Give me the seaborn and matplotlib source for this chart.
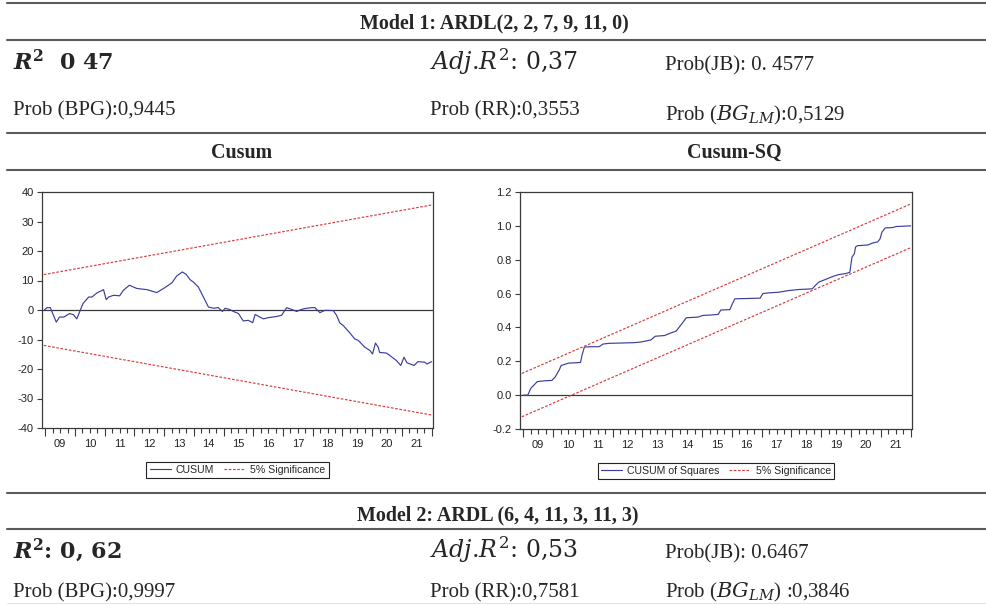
import matplotlib
matplotlib.use("Agg")
import matplotlib.pyplot as plt
from matplotlib.lines import Line2D
import seaborn as sns

# ---------------- data ----------------
model1_title = "Model 1: ARDL(2, 2, 7, 9, 11, 0)"
model2_title = "Model 2: ARDL (6, 4, 11, 3, 11, 3)"
panel_titles = ["Cusum", "Cusum-SQ"]

model1_row1 = [r"$\mathbfit{R}^{\mathbf{2}}$  0 47", r"$Adj$.$R^{2}$: 0,37", "Prob(JB): 0. 4577"]
model1_row2 = ["Prob (BPG):0,9445", "Prob (RR):0,3553", r"Prob ($BG_{LM}$):0,5129"]
model2_row1 = [r"$\mathbfit{R}^{\mathbf{2}}$: 0, 62", r"$Adj$.$R^{2}$: 0,53", "Prob(JB): 0.6467"]
model2_row2 = ["Prob (BPG):0,9997", "Prob (RR):0,7581", r"Prob ($BG_{LM}$) :0,3846"]

cusum_year = [2008.97, 2009.06, 2009.17, 2009.37, 2009.48, 2009.62, 2009.82, 2009.95,
              2010.06, 2010.27, 2010.46, 2010.57, 2010.74, 2010.96, 2011.05, 2011.13,
              2011.30, 2011.50, 2011.63, 2011.83, 2012.08, 2012.42, 2012.75, 2012.98,
              2013.26, 2013.42, 2013.61, 2013.74, 2013.87, 2013.98, 2014.15, 2014.32,
              2014.49, 2014.66, 2014.82, 2014.96, 2015.05, 2015.22, 2015.33, 2015.50,
              2015.66, 2015.83, 2015.98, 2016.06, 2016.22, 2016.34, 2016.50, 2016.78,
              2016.95, 2017.12, 2017.29, 2017.46, 2017.62, 2017.74, 2017.96, 2018.07,
              2018.24, 2018.41, 2018.69, 2018.80, 2018.91, 2019.02, 2019.25, 2019.41,
              2019.53, 2019.75, 2019.92, 2020.01, 2020.11, 2020.20, 2020.25, 2020.48,
              2020.59, 2020.81, 2020.96, 2021.07, 2021.17, 2021.41, 2021.54, 2021.77,
              2021.84, 2022.00]
cusum_value = [0.0, 0.8, 0.8, -4.1, -2.4, -2.4, -1.2, -1.6,
               -3.0, 2.2, 4.4, 4.4, 5.8, 6.9, 3.5, 4.4,
               5.0, 4.8, 6.7, 8.4, 7.3, 6.9, 5.9, 7.3,
               9.2, 11.5, 12.9, 12.1, 10.3, 9.5, 7.8, 4.4,
               1.0, 0.6, 0.8, -0.5, 0.6, 0.1, -0.5, -1.2,
               -3.7, -3.5, -4.3, -1.5, -2.4, -3.0, -2.6, -2.2,
               -1.8, 0.8, 0.2, -0.5, 0.2, 0.5, 0.8, 0.8,
               -0.9, -0.1, -0.2, -1.8, -4.4, -5.2, -7.8, -9.8,
               -10.3, -12.6, -13.7, -14.9, -11.2, -12.6, -14.4, -14.6,
               -15.4, -17.1, -18.8, -16.0, -17.9, -18.8, -17.5, -17.7,
               -18.3, -17.5]
cusum_band_year = [2008.95, 2022.0]
cusum_upper = [12.0, 35.6]
cusum_lower = [-12.0, -35.6]

sq_year = [2009.00, 2009.15, 2009.25, 2009.34, 2009.47, 2009.73, 2009.96, 2010.07,
           2010.21, 2010.27, 2010.41, 2010.52, 2010.92, 2010.97, 2011.05, 2011.26,
           2011.54, 2011.68, 2011.88, 2012.72, 2012.95, 2013.28, 2013.43, 2013.74,
           2013.96, 2014.13, 2014.30, 2014.47, 2014.86, 2015.03, 2015.26, 2015.54,
           2015.63, 2015.93, 2016.01, 2016.10, 2016.55, 2016.95, 2017.04, 2017.23,
           2017.57, 2017.91, 2018.25, 2018.70, 2018.79, 2018.92, 2019.15, 2019.37,
           2019.58, 2019.82, 2019.96, 2020.03, 2020.11, 2020.15, 2020.22, 2020.56,
           2020.73, 2020.89, 2020.97, 2021.04, 2021.15, 2021.40, 2021.51, 2022.00]
sq_value = [0.000, 0.000, 0.040, 0.056, 0.080, 0.085, 0.087, 0.107,
            0.150, 0.175, 0.183, 0.189, 0.193, 0.235, 0.284, 0.286,
            0.286, 0.302, 0.306, 0.310, 0.314, 0.326, 0.348, 0.352,
            0.368, 0.378, 0.417, 0.457, 0.461, 0.471, 0.473, 0.477,
            0.503, 0.505, 0.537, 0.569, 0.571, 0.573, 0.600, 0.604,
            0.608, 0.618, 0.624, 0.628, 0.646, 0.668, 0.684, 0.700,
            0.712, 0.718, 0.726, 0.815, 0.835, 0.875, 0.883, 0.887,
            0.899, 0.905, 0.922, 0.964, 0.988, 0.990, 0.996, 1.000]
sq_band_year = [2008.95, 2022.0]
sq_upper = [0.128, 1.129]
sq_lower = [-0.128, 0.871]

year_ticks = list(range(2009, 2023))
year_labels = ["09", "10", "11", "12", "13", "14", "15", "16", "17", "18", "19", "20", "21"]
cusum_yticks = [-40, -30, -20, -10, 0, 10, 20, 30, 40]
sq_yticks = [-0.2, 0.0, 0.2, 0.4, 0.6, 0.8, 1.0, 1.2]

# ---------------- style ----------------
sns.set_style("white")
plt.rcParams["font.family"] = ["Liberation Sans", "DejaVu Sans"]
plt.rcParams["mathtext.fontset"] = "dejavuserif"

W, H = 987, 605
fig = plt.figure(figsize=(W / 100, H / 100), dpi=100)
fig.patch.set_facecolor("white")


def fx(px):
    return px / W


def fy(py):
    return 1 - py / H


SERIF = ["Liberation Serif", "DejaVu Serif"]
MATH = ["DejaVu Serif"]

# table rules
for y in [3, 40, 133, 170, 493, 529]:
    fig.add_artist(Line2D([fx(7), 1.0], [fy(y), fy(y)], transform=fig.transFigure,
                          color="#5a5a5a", lw=1.5))
fig.add_artist(Line2D([fx(7), 1.0], [fy(603), fy(603)], transform=fig.transFigure,
                      color="#e4e4e4", lw=0.8))

# headers
fig.text(fx(494), fy(28), model1_title, ha="center", va="baseline", fontsize=14.4,
         fontweight="bold", family=SERIF)
fig.text(fx(498), fy(520), model2_title, ha="center", va="baseline", fontsize=14.4,
         fontweight="bold", family=SERIF)
fig.text(fx(242), fy(158), panel_titles[0], ha="center", va="baseline", fontsize=14.4,
         fontweight="bold", family=SERIF)
fig.text(fx(734), fy(158), panel_titles[1], ha="center", va="baseline", fontsize=14.4,
         fontweight="bold", family=SERIF)

cols = [13, 430, 665]


def stat_rows(row1, row2, y1, y2, bg_drop):
    fig.text(fx(cols[0]), fy(y1), row1[0], va="baseline", fontsize=16,
             fontweight="bold", family=MATH)
    fig.text(fx(cols[1]), fy(y1), row1[1], va="baseline", fontsize=17, family=MATH)
    fig.text(fx(cols[2]), fy(y1), row1[2], va="baseline", fontsize=15, family=SERIF)
    fig.text(fx(cols[0]), fy(y2), row2[0], va="baseline", fontsize=15, family=SERIF)
    fig.text(fx(cols[1]), fy(y2), row2[1], va="baseline", fontsize=15, family=SERIF)
    fig.text(fx(cols[2]), fy(y2 + bg_drop), row2[2], va="baseline", fontsize=15,
             family=SERIF)


stat_rows(model1_row1, model1_row2, 70, 115, 5)
stat_rows(model2_row1, model2_row2, 558, 597, 0)

# ---------------- charts ----------------
BLUE = "#3b3d9e"
RED = "#d63c3c"
FRAME = "#3a3a3a"
DASH = (0, (2.2, 1.4))

ax1 = fig.add_axes([fx(42), fy(428), 391 / W, 236 / H])
ax2 = fig.add_axes([fx(520), fy(429), 392 / W, 237 / H])


def style_axis(ax, yticks, fmt):
    ax.set_xlim(2008.89, 2022.045)
    ax.set_ylim(yticks[0], yticks[-1])
    ax.axhline(0, color=FRAME, lw=0.9, zorder=1)
    ax.set_xticks(year_ticks, labels=[""] * len(year_ticks))
    minor_pos, minor_lab = [], []
    for i, yr in enumerate(range(2009, 2022)):
        for frac in [0.25, 0.5, 0.75]:
            minor_pos.append(yr + frac)
            minor_lab.append(year_labels[i] if frac == 0.5 else "")
    ax.set_xticks(minor_pos, labels=minor_lab, minor=True)
    ax.set_yticks(yticks, labels=[fmt.format(v) for v in yticks])
    ax.tick_params(axis="x", which="major", direction="out", length=5.5, width=0.8,
                   color=FRAME, bottom=True)
    ax.tick_params(axis="x", which="minor", direction="out", length=3.5, width=0.8,
                   color=FRAME, bottom=True, pad=4.6, labelsize=8, labelcolor="#222")
    ax.tick_params(axis="y", direction="out", length=3.5, width=0.8, color=FRAME,
                   left=True, pad=2.5, labelsize=8, labelcolor="#222")
    for sp in ax.spines.values():
        sp.set_visible(True)
        sp.set_color(FRAME)
        sp.set_linewidth(0.9)
    ax.set_xlabel("")
    ax.set_ylabel("")
    ax.grid(False)


sns.lineplot(x=cusum_year, y=cusum_value, ax=ax1, color=BLUE, lw=0.85, label="CUSUM")
sns.lineplot(x=cusum_band_year, y=cusum_upper, ax=ax1, color=RED, lw=0.85, ls=DASH,
             label="5% Significance")
sns.lineplot(x=cusum_band_year, y=cusum_lower, ax=ax1, color=RED, lw=0.85, ls=DASH)
style_axis(ax1, cusum_yticks, "{:.0f}")

sns.lineplot(x=sq_year, y=sq_value, ax=ax2, color=BLUE, lw=0.85, label="CUSUM of Squares")
sns.lineplot(x=sq_band_year, y=sq_upper, ax=ax2, color=RED, lw=0.85, ls=DASH,
             label="5% Significance")
sns.lineplot(x=sq_band_year, y=sq_lower, ax=ax2, color=RED, lw=0.85, ls=DASH)
style_axis(ax2, sq_yticks, "{:.1f}")

for ax, h in [(ax1, 236), (ax2, 237)]:
    leg = ax.legend(loc="upper center", bbox_to_anchor=(0.5, -(34 / h)), ncol=2,
                    frameon=True, fancybox=False, edgecolor="#222", framealpha=1,
                    fontsize=7.6, handlelength=2.0, handletextpad=0.5,
                    columnspacing=0.9, borderpad=0.3, borderaxespad=0)
    leg.get_frame().set_linewidth(0.8)

fig.savefig("out.png", dpi=100, facecolor="white")
